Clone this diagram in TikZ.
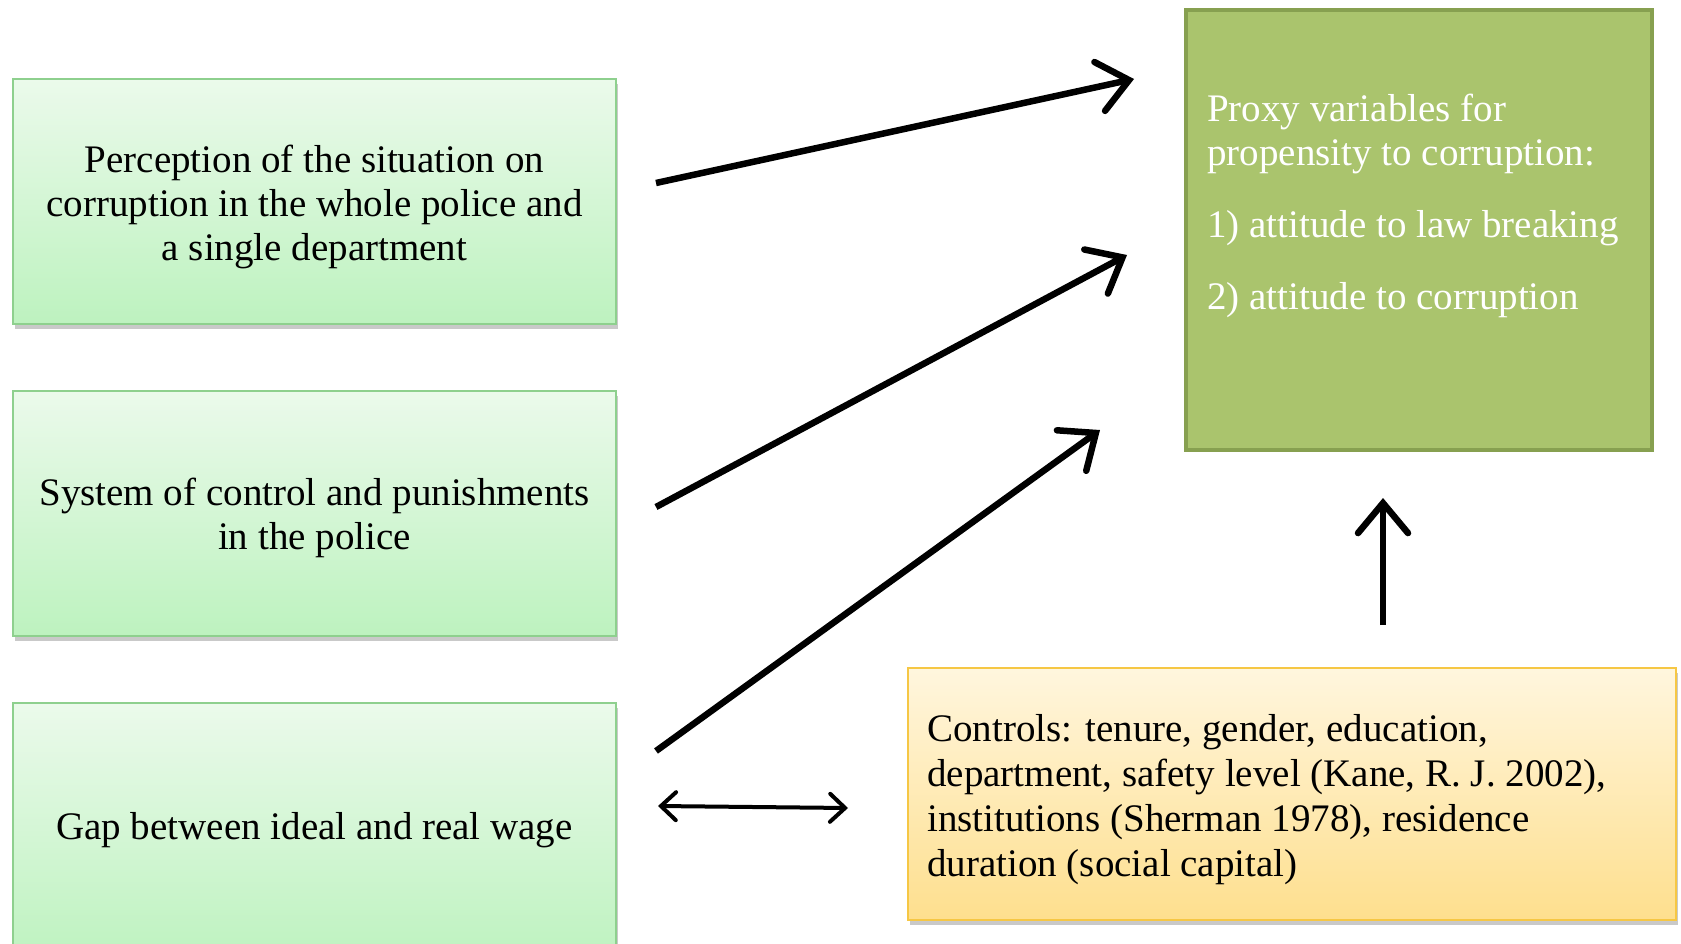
\documentclass[tikz,border=0pt]{standalone}
\usepackage{fontspec}
\setmainfont{Liberation Serif}
\usetikzlibrary{arrows.meta,shadows,calc}
\definecolor{lgtop}{HTML}{EBFAEB}
\definecolor{lgbot}{HTML}{BDF2BF}
\definecolor{lgborder}{HTML}{8ED08E}
\definecolor{dgfill}{HTML}{AAC46D}
\definecolor{dgborder}{HTML}{87A050}
\definecolor{ytop}{HTML}{FFF6DE}
\definecolor{ybot}{HTML}{FEDF8E}
\definecolor{yborder}{HTML}{F6C744}
\tikzset{
  lbox/.style={draw=lgborder, line width=1.5pt, top color=lgtop, bottom color=lgbot,
    minimum width=603pt, minimum height=245pt, inner sep=0pt,
    drop shadow={shadow xshift=2pt, shadow yshift=-5pt, opacity=0.35, fill=black!60}},
  ltext/.style={align=center, inner sep=0pt, font=\fontsize{39}{44}\selectfont},
  pbox/.style={draw=dgborder, line width=4pt, fill=dgfill,
    minimum width=466pt, minimum height=440pt, inner sep=0pt},
  ybox/.style={draw=yborder, line width=1.5pt, top color=ytop, bottom color=ybot,
    minimum width=768pt, minimum height=252pt, inner sep=0pt,
    drop shadow={shadow xshift=2pt, shadow yshift=-5pt, opacity=0.35, fill=black!60}},
  bigarrow/.style={line width=6.5pt, -{Straight Barb[length=30pt, width=50pt, line cap=round]}},
  dblarrow/.style={line width=4pt, {Straight Barb[length=15pt, width=28pt, line cap=round]}-{Straight Barb[length=15pt, width=28pt, line cap=round]}},
}
\begin{document}
\begin{tikzpicture}[x=1pt, y=-1pt]
\useasboundingbox (0,0) rectangle (1681,944);
\fill[white] (0,0) rectangle (1681,944);
% left boxes
\node[lbox] (b1) at (314.5,201.5) {};
\node[ltext] (b1t) at (314.5,207) {Perception of the situation on\\corruption in the whole police and\\a single department};
\node[lbox] (b2) at (314.5,513.5) {};
\node[ltext] (b2t) at (314.5,518) {System of control and punishments\\in the police};
\node[lbox, minimum height=260pt] (b3) at (314.5,833) {};
\node[ltext] (b3t) at (314.5,830) {Gap between ideal and real wage};
% right green box
\node[pbox] (p) at (1419,230) {};
\node[anchor=north west, text=white, font=\fontsize{39}{44}\selectfont, align=left, inner sep=0pt] (pt) at (1207,94)
  {Proxy variables for\\propensity to corruption:\\[28pt]1) attitude to law breaking\\[28pt]2) attitude to corruption};
% yellow box
\node[ybox] (y) at (1292,794) {};
\node[anchor=north west, font=\fontsize{39}{45}\selectfont, align=left, inner sep=0pt] (yt) at (927,714)
  {Controls: tenure, gender, education,\\department, safety level (Kane, R. J. 2002),\\institutions (Sherman 1978), residence\\duration (social capital)};
% arrow end points
\coordinate (s1) at (656,183);
\coordinate (e1) at (1134,79);
\coordinate (s2) at (656,507);
\coordinate (e2) at (1127,255);
\coordinate (s3) at (656,751);
\coordinate (e3) at (1100,430);
\coordinate (s4) at (658,806);
\coordinate (e4) at (848,808);
\coordinate (s5) at (1383,625);
\coordinate (e5) at (1383,498);
\draw[bigarrow] (s1) -- (e1);
\draw[bigarrow] (s2) -- (e2);
\draw[bigarrow] (s3) -- (e3);
\draw[dblarrow] (s4) -- (e4);
\draw[bigarrow] (s5) -- (e5);
\end{tikzpicture}
\end{document}
